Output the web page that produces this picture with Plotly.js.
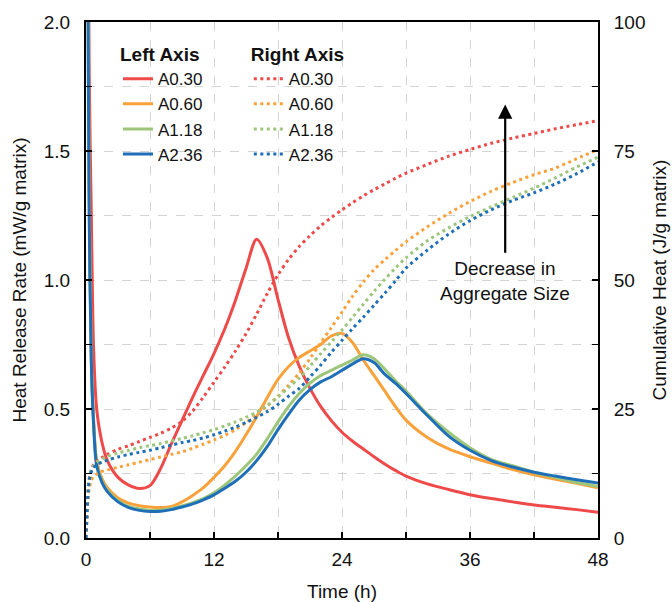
<!DOCTYPE html>
<html>
<head>
<meta charset="utf-8">
<script src="https://cdn.plot.ly/plotly-3.0.1.min.js"></script>
<style>html,body{margin:0;padding:0;background:#fff;}#chart{width:672px;height:602px;}</style>
</head>
<body>
<div id="chart"></div>
<script>
// Time (h)
const timeH = [0, 0.1, 0.2, 0.3, 0.5, 0.7, 1, 1.5, 2, 3, 4, 5, 6, 7, 8, 9, 10, 11, 12, 13, 14, 15, 16, 17, 18, 19, 20, 21, 22, 23, 24, 25, 26, 27, 28, 29, 30, 32, 34, 36, 38, 40, 42, 44, 46, 48];

// Heat release rate (mW/g matrix) - left axis
const hrrA030 = [6, 3.2, 2.5, 1.8, 1.25, 0.75, 0.5, 0.37, 0.3, 0.235, 0.205, 0.192, 0.203, 0.27, 0.365, 0.455, 0.545, 0.63, 0.715, 0.81, 0.92, 1.045, 1.158, 1.085, 0.925, 0.775, 0.665, 0.58, 0.51, 0.455, 0.41, 0.375, 0.345, 0.315, 0.287, 0.262, 0.24, 0.21, 0.188, 0.168, 0.153, 0.14, 0.128, 0.119, 0.11, 0.10];
const hrrA060 = [6, 3.0, 2.1, 1.35, 0.7, 0.47, 0.3, 0.23, 0.195, 0.155, 0.135, 0.125, 0.12, 0.118, 0.122, 0.14, 0.165, 0.195, 0.235, 0.28, 0.335, 0.40, 0.47, 0.545, 0.615, 0.665, 0.70, 0.725, 0.75, 0.783, 0.793, 0.757, 0.69, 0.63, 0.57, 0.51, 0.457, 0.39, 0.345, 0.315, 0.29, 0.265, 0.245, 0.228, 0.212, 0.195];
const hrrA118 = [6, 3.0, 2.05, 1.3, 0.69, 0.46, 0.29, 0.22, 0.185, 0.145, 0.122, 0.112, 0.107, 0.108, 0.114, 0.124, 0.137, 0.153, 0.175, 0.205, 0.24, 0.28, 0.325, 0.385, 0.45, 0.51, 0.56, 0.60, 0.63, 0.65, 0.67, 0.69, 0.71, 0.695, 0.655, 0.61, 0.57, 0.48, 0.41, 0.35, 0.305, 0.28, 0.255, 0.235, 0.215, 0.20];
const hrrA236 = [6, 3.0, 2.0, 1.25, 0.68, 0.45, 0.28, 0.215, 0.18, 0.14, 0.118, 0.107, 0.103, 0.104, 0.11, 0.12, 0.132, 0.148, 0.167, 0.193, 0.22, 0.255, 0.30, 0.355, 0.42, 0.48, 0.535, 0.575, 0.605, 0.625, 0.65, 0.675, 0.695, 0.68, 0.635, 0.60, 0.56, 0.475, 0.395, 0.34, 0.30, 0.275, 0.255, 0.24, 0.226, 0.213];

// Cumulative heat (J/g matrix) - right axis
const cumA030 = [0, 5, 9, 11.5, 13.3, 14.2, 14.9, 15.6, 16.2, 17.2, 17.9, 18.7, 19.5, 20.3, 21.3, 22.6, 24.6, 27.3, 30.2, 33.1, 36.2, 39.6, 43.4, 47.4, 51.0, 54.0, 56.5, 58.6, 60.5, 62.1, 63.6, 65.0, 66.3, 67.5, 68.6, 69.7, 70.7, 72.4, 74.0, 75.3, 76.5, 77.5, 78.4, 79.3, 80.1, 80.9];
const cumA060 = [0, 4, 7.5, 9.5, 11.2, 11.9, 12.4, 12.9, 13.2, 13.7, 14.2, 14.7, 15.2, 15.7, 16.2, 16.7, 17.4, 18.2, 19.0, 19.9, 21.0, 22.4, 24.0, 25.6, 27.5, 29.6, 32.0, 34.8, 37.8, 40.8, 43.8, 46.9, 49.6, 52.0, 53.9, 55.7, 57.4, 60.3, 62.9, 65.2, 67.2, 68.9, 70.4, 71.7, 73.5, 75.3];
const cumA118 = [0, 5, 9, 11.5, 13.3, 14.0, 14.7, 15.3, 15.8, 16.5, 17.0, 17.5, 17.9, 18.3, 18.8, 19.3, 19.8, 20.4, 21.0, 21.7, 22.5, 23.4, 24.4, 25.7, 27.3, 29.2, 31.0, 33.3, 35.7, 38.0, 40.3, 42.8, 45.3, 47.8, 50.1, 52.3, 54.3, 57.6, 60.1, 62.3, 64.2, 66.0, 67.8, 69.8, 71.9, 73.8];
const cumA236 = [0, 5, 9, 11.2, 12.8, 13.6, 14.2, 14.7, 15.1, 15.7, 16.2, 16.6, 17.0, 17.5, 18.0, 18.5, 18.9, 19.4, 20.0, 20.7, 21.5, 22.4, 23.4, 24.5, 25.9, 27.5, 29.0, 31.2, 33.5, 36.0, 38.3, 40.6, 42.8, 45.1, 47.4, 49.8, 52.3, 55.8, 58.9, 61.5, 63.6, 65.4, 66.9, 68.6, 70.6, 72.9];

const seriesNames = ['A0.30', 'A0.60', 'A1.18', 'A2.36'];
const seriesColors = ['#EF4A4A', '#F9A23C', '#9DC67B', '#1E6FB8'];
const hrrSeries = [hrrA030, hrrA060, hrrA118, hrrA236];
const cumSeries = [cumA030, cumA060, cumA118, cumA236];

const FONT = 'Liberation Sans, Arial, sans-serif';
const FS = 19;
const traces = [];
hrrSeries.forEach((ys, i) => {
  traces.push({
    x: timeH, y: ys, type: 'scatter', mode: 'lines', name: seriesNames[i],
    line: {color: seriesColors[i], width: 3, shape: 'spline', smoothing: 0.85},
    xaxis: 'x', yaxis: 'y', legend: 'legend'
  });
});
cumSeries.forEach((ys, i) => {
  traces.push({
    x: timeH, y: ys, type: 'scatter', mode: 'lines', name: seriesNames[i],
    line: {color: seriesColors[i], width: 3, dash: '3px,3.5px', shape: 'spline', smoothing: 0.85},
    xaxis: 'x', yaxis: 'y2', legend: 'legend2'
  });
});

const gridColor = '#d4d4d4';
const layout = {
  width: 672, height: 602,
  margin: {l: 86, r: 74, t: 22, b: 64},
  paper_bgcolor: '#fff', plot_bgcolor: '#fff',
  font: {family: FONT, size: FS, color: '#111'},
  showlegend: true,
  xaxis: {
    range: [0, 48], dtick: 12, tick0: 0,
    ticks: 'inside', ticklen: 6, tickwidth: 1.5, tickcolor: '#000',
    showline: true, linecolor: '#000', linewidth: 2, mirror: true,
    showgrid: true, gridcolor: gridColor, griddash: 'dash', gridwidth: 1,
    zeroline: false, ticklabelstandoff: 3,
    minor: {dtick: 6, ticks: 'inside', ticklen: 6, tickcolor: '#000', showgrid: true, gridcolor: gridColor, griddash: 'dash'},
    title: {text: 'Time (h)', font: {size: FS}, standoff: 17},
    tickfont: {size: FS}
  },
  yaxis: {
    range: [0, 2], dtick: 0.5, tick0: 0, tickformat: '.1f',
    ticks: 'inside', ticklen: 6, tickwidth: 1.5, tickcolor: '#000',
    showline: true, linecolor: '#000', linewidth: 2,
    showgrid: true, gridcolor: gridColor, griddash: 'dash',
    zeroline: false, ticklabelstandoff: 10,
    minor: {dtick: 0.25, ticks: 'inside', ticklen: 6, tickcolor: '#000', showgrid: true, gridcolor: gridColor, griddash: 'dash'},
    title: {text: 'Heat Release Rate (mW/g matrix)', font: {size: FS}, standoff: 12},
    tickfont: {size: FS}
  },
  yaxis2: {
    overlaying: 'y', side: 'right', anchor: 'x',
    range: [0, 100], dtick: 25, tick0: 0,
    ticks: 'inside', ticklen: 6, tickwidth: 1.5, tickcolor: '#000',
    showline: true, linecolor: '#000', linewidth: 2,
    showgrid: false, zeroline: false, ticklabelstandoff: 10,
    minor: {dtick: 12.5, ticks: 'inside', ticklen: 6, tickcolor: '#000', showgrid: false},
    title: {text: 'Cumulative Heat (J/g matrix)', font: {size: FS}, standoff: 8},
    tickfont: {size: FS}
  },
  legend: {
    x: 0.0625, y: 0.972, xanchor: 'left', yanchor: 'top',
    bgcolor: 'rgba(0,0,0,0)', borderwidth: 0,
    title: {text: '<b>Left Axis</b>', side: 'top', font: {size: FS}},
    font: {size: 17}, tracegroupgap: 0
  },
  legend2: {
    x: 0.318, y: 0.972, xanchor: 'left', yanchor: 'top',
    bgcolor: 'rgba(0,0,0,0)', borderwidth: 0,
    title: {text: '<b>Right Axis</b>', side: 'top', font: {size: FS}},
    font: {size: 17}, tracegroupgap: 0
  },
  annotations: [
    {x: 39.3, y: 49.8, xref: 'x', yref: 'y2', text: 'Decrease in<br>Aggregate Size',
     showarrow: false, font: {size: FS, color: '#111'}, align: 'center'},
    {x: 39.3, y: 84, xref: 'x', yref: 'y2', ax: 39.3, ay: 55, axref: 'x', ayref: 'y2',
     text: '', showarrow: true, arrowhead: 2, arrowsize: 1.3, arrowwidth: 2.2, arrowcolor: '#000'}
  ]
};

Plotly.newPlot('chart', traces, layout, {displayModeBar: false, staticPlot: true});
</script>
</body>
</html>
